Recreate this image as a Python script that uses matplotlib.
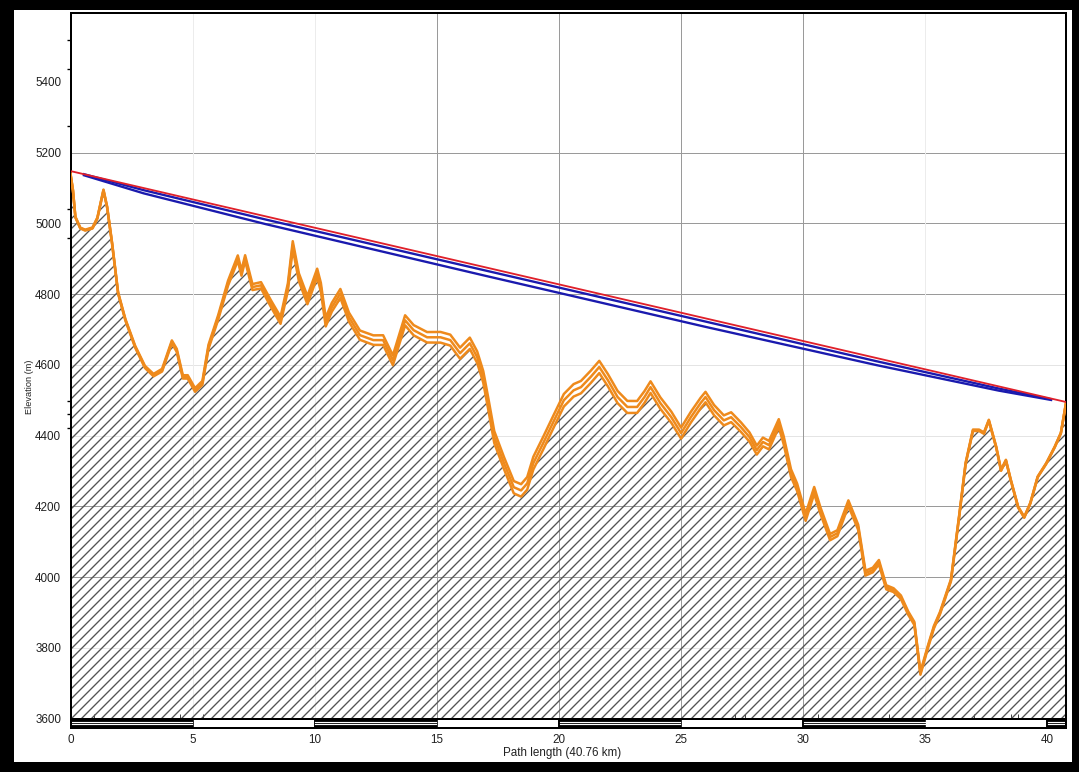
import matplotlib
matplotlib.use("Agg")
import matplotlib.pyplot as plt
import numpy as np
from matplotlib.patches import Rectangle

# terrain profile along the path (km, m)
dist_km = [
    0.0, 0.1, 0.2, 0.4, 0.6, 0.9, 1.1, 1.35, 1.5, 1.7,
    1.95, 2.25, 2.65, 3.05, 3.4, 3.75, 4.15, 4.35, 4.6, 4.8,
    5.1, 5.4, 5.65, 6.05, 6.45, 6.85, 7.0, 7.15, 7.45, 7.8,
    8.2, 8.6, 8.9, 9.1, 9.35, 9.7, 10.1, 10.25, 10.45, 10.7,
    11.05, 11.4, 11.85, 12.4, 12.8, 13.2, 13.45, 13.7, 14.05, 14.6,
    15.15, 15.55, 15.95, 16.35, 16.65, 16.9, 17.1, 17.35, 17.75, 18.15,
    18.45, 18.7, 18.95, 19.35, 19.8, 20.2, 20.6, 20.9, 21.3, 21.65,
    22.0, 22.4, 22.8, 23.2, 23.5, 23.75, 24.15, 24.6, 25.0, 25.4,
    25.8, 26.0, 26.35, 26.75, 27.05, 27.45, 27.8, 28.1, 28.35, 28.6,
    29.0, 29.2, 29.5, 29.75, 30.1, 30.45, 30.7, 31.1, 31.4, 31.85,
    32.25, 32.55, 32.85, 33.1, 33.4, 33.7, 34.0, 34.3, 34.55, 34.8,
    35.1, 35.35, 35.6, 36.05, 36.4, 36.65, 36.95, 37.2, 37.4, 37.6,
    37.9, 38.1, 38.3, 38.5, 38.8, 39.05, 39.3, 39.6, 39.95, 40.3,
    40.55, 40.76,
]
elev_m = [
    5140, 5094, 5018, 4987, 4981, 4987, 5015, 5094, 5046, 4945,
    4803, 4727, 4651, 4594, 4571, 4585, 4665, 4641, 4566, 4566,
    4529, 4549, 4651, 4735, 4831, 4902, 4860, 4902, 4820, 4825,
    4774, 4726, 4820, 4939, 4848, 4783, 4860, 4820, 4721, 4763,
    4802, 4735, 4684, 4670, 4670, 4613, 4670, 4726, 4698, 4678,
    4678, 4670, 4633, 4661, 4622, 4566, 4492, 4396, 4322, 4254,
    4245, 4265, 4322, 4378, 4443, 4500, 4528, 4537, 4566, 4594,
    4557, 4509, 4481, 4481, 4509, 4537, 4492, 4452, 4407, 4452,
    4492, 4509, 4472, 4443, 4452, 4424, 4396, 4359, 4382, 4373,
    4435, 4387, 4294, 4254, 4169, 4245, 4189, 4113, 4124, 4209,
    4141, 4011, 4020, 4042, 3971, 3963, 3943, 3898, 3869, 3728,
    3801, 3858, 3898, 3991, 4180, 4321, 4415, 4415, 4407, 4443,
    4368, 4302, 4330, 4274, 4198, 4169, 4209, 4283, 4321, 4368,
    4407, 4492,
]

# terrain uncertainty band (+/- m) along the path
spread_km = [0, 2, 5, 10, 15, 19, 23, 27, 31, 34, 37, 40.76]
spread_m = [1, 2, 5, 12, 15, 18, 17, 14, 9, 5, 2, 1]

# direct line of sight between the antennas
los_km = [0.0, 40.76]
los_m = [5148, 4495]

# radio ray (two edges) drawn below the line of sight
ray_km = [0.55, 3, 8, 17, 26, 33, 38, 40.15]
ray_top_drop = [0, 6, 9, 9, 9, 9, 6, 2]
ray_bot_drop = [3, 15, 22, 24, 24, 20, 12, 4]

y_ticks = [3600, 3800, 4000, 4200, 4400, 4600, 4800, 5000, 5200, 5400]
y_minor = [5518, 5436, 5275, 5040, 4958, 4497, 4460, 4421]
x_ticks = [0, 5, 10, 15, 20, 25, 30, 35, 40]
x_minor = [0.97, 4.49, 5.43, 27.2, 27.6, 30.6, 33.5, 37.0, 38.5, 38.8]
path_len = 40.76

W, H, DPI = 1079, 772, 120
plt.rcParams["font.family"] = ["Liberation Sans", "DejaVu Sans"]
plt.rcParams["hatch.linewidth"] = 0.8

fig = plt.figure(figsize=(W / DPI, H / DPI), dpi=DPI)
fig.patch.set_facecolor("black")
fig.add_artist(Rectangle((14 / W, 10 / H), (1072 - 14) / W, (762 - 10) / H,
                         transform=fig.transFigure, facecolor="white",
                         edgecolor="none", zorder=0))

left, right, top, bottom = 70.5, 1066, 13, 718.5
ax = fig.add_axes([left / W, (H - bottom) / H, (right - left) / W, (bottom - top) / H])
ax.set_xlim(0, path_len)
ax.set_ylim(3600, 5595)

# grid: some lines darker than others
for y in [4000, 4200, 4800, 5000, 5200]:
    ax.axhline(y, color="#9a9a9a", lw=0.6, zorder=1)
for y in [3800, 4400, 4600]:
    ax.axhline(y, color="#e4e4e4", lw=0.6, zorder=1)
for x in [15, 20, 25, 30]:
    ax.axvline(x, color="#9a9a9a", lw=0.6, zorder=1)
for x in [5, 10, 35]:
    ax.axvline(x, color="#ececec", lw=0.6, zorder=1)

d = np.array(dist_km)
e = np.array(elev_m, dtype=float)
s = np.interp(d, spread_km, spread_m)

ax.fill_between(d, e - s, 3600, facecolor="none", edgecolor="#555555",
                hatch="////", linewidth=0, zorder=2)
orange = "#EE8A1C"
for off in (s, 0 * s, -s):
    ax.plot(d, e + off, color=orange, lw=1.5, zorder=3, solid_joinstyle="round")

los_at_ray = np.interp(ray_km, los_km, los_m)
blue = "#1A1AAE"
ax.plot(ray_km, los_at_ray - np.array(ray_top_drop), color=blue, lw=1.4, zorder=4)
ax.plot(ray_km, los_at_ray - np.array(ray_bot_drop), color=blue, lw=1.4, zorder=4)
ax.plot(los_km, los_m, color="#E0202A", lw=1.1, zorder=5)

ax.set_yticks(y_ticks)
ax.set_yticklabels([str(v) for v in y_ticks])
ax.set_yticks(y_minor, minor=True)
ax.tick_params(axis="y", which="major", length=0, pad=5.7, labelsize=7, colors="#222222")
ax.tick_params(axis="y", which="minor", length=2.4, width=0.8, direction="out")
ax.set_xticks([])
ax.set_xticks(x_minor, minor=True)
ax.tick_params(axis="x", which="minor", length=3, width=0.6, direction="in", color="#444444")
for sp in ax.spines.values():
    sp.set_color("black")
    sp.set_linewidth(1.2)

# distance scale bar under the profile
bar = fig.add_axes([left / W, (H - 727.5) / H, (right - left) / W, 9 / H])
bar.set_xlim(0, path_len)
bar.set_ylim(0, 1)
starts = list(range(0, 45, 5))
for i, x0 in enumerate(starts):
    x1 = min(x0 + 5, path_len)
    dark = i % 2 == 0
    bar.add_patch(Rectangle((x0, 0), x1 - x0, 1, facecolor="black" if dark else "white",
                            edgecolor="black", lw=1.0))
    if dark:
        for yy in (0.36, 0.64):
            bar.plot([x0 + 0.03, x1 - 0.03], [yy, yy], color="white", lw=0.7)
bar.set_yticks([])
bar.set_xticks(x_ticks)
bar.set_xticklabels([str(v) for v in x_ticks])
bar.tick_params(axis="x", length=0, pad=4, labelsize=7, colors="#222222")
for sp in bar.spines.values():
    sp.set_linewidth(1.2)

fig.text(562 / W, (H - 753) / H, f"Path length ({path_len:.2f} km)", ha="center",
         va="center", fontsize=7, color="#222222")
fig.text(29.5 / W, (H - 387) / H, "Elevation (m)", rotation=90, ha="center",
         va="center", fontsize=5.5, color="#222222")

fig.savefig("out.png", dpi=DPI, facecolor=fig.get_facecolor())
